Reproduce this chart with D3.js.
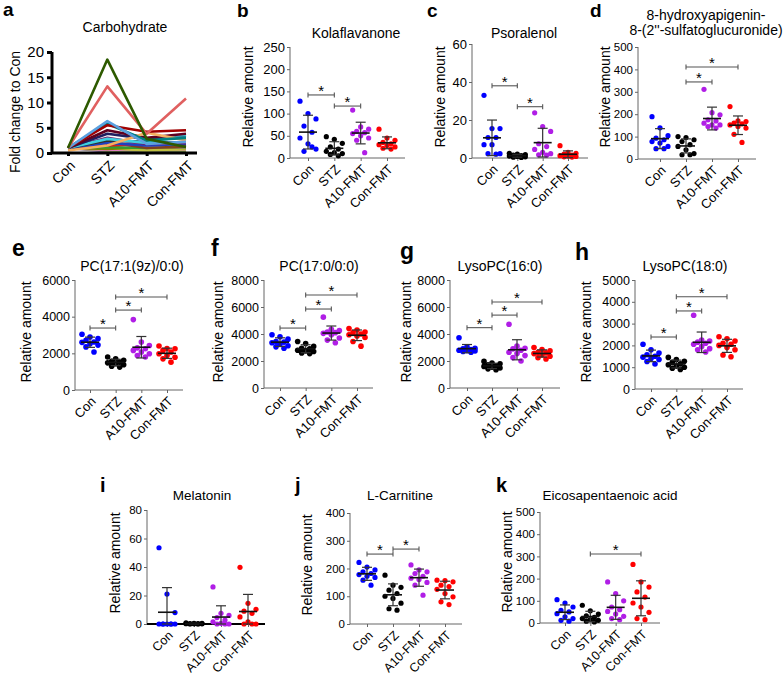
<!DOCTYPE html>
<html><head><meta charset="utf-8">
<script src="https://cdn.jsdelivr.net/npm/d3@7"></script>
<style>
body{margin:0;background:#fff}
text{font-family:"Liberation Sans",Arial,Helvetica,sans-serif;fill:#000}
</style>
</head><body>
<svg id="chart" width="784" height="676"></svg>
<script>
// ---------------- DATA ----------------
const groups = ["Con", "STZ", "A10-FMT", "Con-FMT"];
const groupColors = ["#0000ff", "#000000", "#b01ee6", "#ff0000"];

// (a) Carbohydrate: fold change to Con, one line per metabolite
const carbTicks = [0, 5, 10, 15, 20];
const carbSeries = [
  [1, 0.3, 0.4, 0.3],
  [1, 0.5, 0.6, 0.5],
  [1, 0.6, 0.8, 0.7],
  [1, 1.0, 0.5, 0.8],
  [1, 0.8, 1.2, 1.0],
  [1, 1.2, 1.0, 1.5],
  [1, 1.8, 1.3, 1.1],
  [1, 2.2, 1.0, 1.3],
  [1, 1.5, 1.8, 2.0],
  [1, 2.0, 1.5, 1.8],
  [1, 2.5, 2.2, 2.0],
  [1, 3.0, 1.8, 2.0],
  [1, 2.8, 2.0, 3.5],
  [1, 3.8, 2.8, 3.0],
  [1, 4.5, 3.0, 3.8],
  [0.5, 1.5, 4.0, 2.5],
  [1, 5.8, 2.5, 3.0],
  [1, 5.5, 4.2, 4.5],
  [1, 6.3, 1.8, 2.2],
  [1, 13.2, 3.8, 10.8],
  [1, 18.5, 2.8, 1.2]
];
const carbColors = ["#9060c0", "#80c020", "#e080c0", "#c0c040", "#808000", "#30a030",
  "#909090", "#804020", "#d02020", "#2040c0", "#303030", "#702070", "#40d0e0",
  "#1f1f60", "#600020", "#f5b060", "#008080", "#a00000", "#5aa0e0", "#e06060", "#2d5a00"];

// (b) Kolaflavanone
const kolaflavanone = [
  [128, 100, 88, 72, 58, 45, 32, 20, 15, 25],
  [48, 42, 33, 25, 20, 15, 12, 10, 8, 5],
  [108, 70, 65, 60, 57, 55, 50, 45, 40, 12],
  [65, 45, 40, 35, 32, 30, 28, 25, 22, 20]
];
const kolaTicks = [0, 50, 100, 150, 200, 250];
const kolaSig = [[0, 1, 142], [1, 2, 117]];

// (c) Psoralenol
const psoralenol = [
  [33, 15.5, 15.5, 10.8, 10.8, 7, 7, 2.3, 2.3, 2],
  [2.5, 2, 1.8, 1.5, 1.2, 1, 0.8, 0.6, 0.4, 0.3],
  [23.8, 16.5, 14, 7.5, 6, 4.5, 3, 2.3, 1.7, 1.5],
  [6.5, 3, 2.5, 2, 1.5, 1.2, 1, 0.8, 0.6, 0.5]
];
const psoTicks = [0, 20, 40, 60];
const psoSig = [[0, 1, 38], [1, 2, 27]];

// (d) 8-hydroxyapigenin-8-(2''-sulfatoglucuronide)
const hydroxyapigenin = [
  [189, 139, 104, 93, 86, 78, 71, 56, 46, 46],
  [100, 96, 86, 78, 64, 56, 41, 24, 19, 19],
  [311, 207, 197, 175, 170, 160, 152, 152, 145, 138],
  [234, 170, 167, 160, 157, 152, 145, 138, 110, 74]
];
const hydTicks = [0, 100, 200, 300, 400, 500];
const hydSig = [[1, 2, 344], [1, 3, 411]];

// (e) PC(17:1(9z)/0:0)
const pc171 = [
  [3040, 2890, 2800, 2710, 2620, 2600, 2520, 2450, 2350, 2070],
  [1800, 1700, 1620, 1560, 1520, 1480, 1430, 1380, 1300, 1250],
  [3840, 2620, 2430, 2300, 2250, 2160, 2070, 1980, 1880, 1800],
  [2400, 2260, 2250, 2160, 2070, 1980, 1880, 1790, 1700, 1520]
];
const pc171Ticks = [0, 2000, 4000, 6000];
const pc171Sig = [[0, 1, 3380], [1, 2, 4360], [1, 3, 5070]];

// (f) PC(17:0/0:0)
const pc170 = [
  [3950, 3800, 3620, 3450, 3400, 3350, 3250, 3130, 3050, 2950],
  [3450, 3300, 3080, 2950, 2900, 2800, 2750, 2700, 2600, 2550],
  [5250, 4350, 4250, 4150, 4100, 4050, 3950, 3700, 3550, 3350],
  [4400, 4300, 4150, 4100, 4000, 3950, 3850, 3750, 3450, 3100]
];
const pc170Ticks = [0, 2000, 4000, 6000, 8000];
const pc170Sig = [[0, 1, 4440], [1, 2, 5850], [1, 3, 6890]];

// (g) LysoPC(16:0)
const lyso160 = [
  [3720, 3050, 2950, 2900, 2850, 2800, 2780, 2750, 2700, 2650],
  [1970, 1850, 1800, 1720, 1650, 1600, 1550, 1480, 1420, 1350],
  [4720, 3100, 2950, 2900, 2800, 2650, 2550, 2400, 2250, 2000],
  [3000, 2850, 2750, 2650, 2600, 2550, 2450, 2350, 2250, 2150]
];
const lyso160Ticks = [0, 2000, 4000, 6000, 8000];
const lyso160Sig = [[0, 1, 4470], [1, 2, 5400], [1, 3, 6370]];

// (h) LysoPC(18:0)
const lyso180 = [
  [2050, 1800, 1650, 1570, 1500, 1460, 1400, 1350, 1260, 1150],
  [1450, 1350, 1270, 1220, 1160, 1110, 1050, 1000, 950, 900],
  [3380, 2250, 2200, 2150, 2100, 2050, 1950, 1850, 1800, 1700],
  [2400, 2300, 2200, 2100, 2050, 2000, 1900, 1800, 1560, 1480]
];
const lyso180Ticks = [0, 1000, 2000, 3000, 4000, 5000];
const lyso180Sig = [[0, 1, 2385], [1, 2, 3580], [1, 3, 4230]];

// (i) Melatonin
const melatonin = [
  [53.5, 21, 8, 0, 0, 0, 0, 0, 0, 0],
  [0.8, 0.5, 0.4, 0.3, 0.2, 0.2, 0.1, 0.1, 0, 0],
  [26, 7.5, 6, 4.5, 2.8, 1.5, 0.5, 0, 0, 0],
  [39.8, 14.5, 10.3, 9, 7.5, 5, 1.5, 0, 0, 0]
];
const melTicks = [0, 20, 40, 60, 80];
const melSig = [];

// (j) L-Carnitine
const carnitine = [
  [222, 205, 195, 188, 182, 178, 172, 168, 158, 140],
  [176, 140, 132, 122, 110, 100, 92, 75, 55, 50],
  [213, 195, 188, 182, 172, 165, 160, 150, 140, 104],
  [158, 156, 152, 140, 135, 125, 110, 98, 80, 70]
];
const carTicks = [0, 100, 200, 300, 400];
const carSig = [[0, 1, 252], [1, 2, 270]];

// (k) Eicosapentaenoic acid
const epa = [
  [105, 90, 72, 57, 50, 42, 28, 20, 12, 8],
  [80, 55, 40, 32, 25, 20, 15, 12, 8, 5],
  [185, 132, 100, 72, 60, 52, 40, 30, 20, 15],
  [264, 185, 162, 140, 117, 90, 72, 48, 20, 15]
];
const epaTicks = [0, 100, 200, 300, 400, 500];
const epaSig = [[1, 3, 311]];

// ---------------- LAYOUT ----------------
const svg = d3.select("#chart");
const FONT = '"Liberation Sans",Arial,sans-serif';

function letter(t, x, y, size) {
  svg.append("text").attr("x", x).attr("y", y).attr("font-size", size)
    .attr("font-weight", "bold").text(t);
}

function yAxisLabel(t, x, y, size) {
  svg.append("text").attr("transform", `translate(${x},${y}) rotate(-90)`)
    .attr("text-anchor", "middle").attr("dy", "0.35em").attr("font-size", size).text(t);
}

function drawAxes(p, x, y) {
  const ya = svg.append("g").attr("transform", `translate(${p.x0},0)`)
    .call(d3.axisLeft(y).tickValues(p.ticks).tickFormat(d3.format("d"))
      .tickSize(p.tickLen || 3).tickPadding(p.tickPad || 2).tickSizeOuter(0));
  ya.select(".domain").attr("stroke", p.axisColor).attr("stroke-width", p.axisW)
    .attr("d", `M0,${p.yBot}V${p.yTop}`);
  ya.selectAll(".tick line").attr("stroke", p.axisColor).attr("stroke-width", p.axisW);
  ya.selectAll(".tick text").attr("font-size", p.tickFont).attr("font-family", FONT).attr("fill", "#000");

  const xa = svg.append("g").attr("transform", `translate(0,${p.yBot})`)
    .call(d3.axisBottom(x).tickSize(3).tickSizeOuter(0));
  xa.select(".domain").attr("stroke", p.xAxisColor || p.axisColor)
    .attr("stroke-width", p.xAxisW || p.axisW).attr("d", `M${p.x0},0H${p.x1}`);
  xa.selectAll(".tick line").attr("stroke", p.axisColor).attr("stroke-width", p.axisW);
  xa.selectAll(".tick text").attr("font-size", p.xFont).attr("font-family", FONT).attr("fill", "#000")
    .attr("text-anchor", "end").attr("x", 0).attr("y", 0).attr("dy", "0.35em")
    .attr("transform", `translate(${p.lx},${p.ly}) rotate(-45)`);
}

function drawScatter(p) {
  const x = d3.scalePoint().domain(groups).range([p.c0, p.c1]);
  const y = d3.scaleLinear().domain([0, p.ticks[p.ticks.length - 1]]).range([p.yBot, p.yTop]);
  drawAxes(p, x, y);

  const g = svg.append("g");
  p.data.forEach((vals, gi) => {
    const cx = x(groups[gi]);
    vals.forEach((v, i) => {
      const off = (((i * 7) % 5) - 2) * p.jit;
      g.append("circle").attr("cx", cx + off).attr("cy", y(v)).attr("r", p.r)
        .attr("fill", groupColors[gi]);
    });
    const m = d3.mean(vals), sd = d3.deviation(vals);
    const lo = Math.max(0, m - sd), hi = m + sd;
    const ec = "#333";
    g.append("line").attr("x1", cx).attr("x2", cx).attr("y1", y(lo)).attr("y2", y(hi))
      .attr("stroke", ec).attr("stroke-width", 1.2);
    [lo, hi].forEach(b => g.append("line").attr("x1", cx - p.cap).attr("x2", cx + p.cap)
      .attr("y1", y(b)).attr("y2", y(b)).attr("stroke", ec).attr("stroke-width", 1.2));
    g.append("line").attr("x1", cx - p.meanW).attr("x2", cx + p.meanW)
      .attr("y1", y(m)).attr("y2", y(m)).attr("stroke", "#111").attr("stroke-width", 1.6);
  });

  p.sig.forEach(([a, b, v]) => {
    const x1 = x(groups[a]), x2 = x(groups[b]), yy = y(v);
    const sc = "#555";
    g.append("line").attr("x1", x1).attr("x2", x2).attr("y1", yy).attr("y2", yy)
      .attr("stroke", sc).attr("stroke-width", 1.1);
    [x1, x2].forEach(xx => g.append("line").attr("x1", xx).attr("x2", xx)
      .attr("y1", yy - 2.5).attr("y2", yy + 2.5).attr("stroke", sc).attr("stroke-width", 1.1));
    g.append("text").attr("x", (x1 + x2) / 2).attr("y", yy + 1).attr("text-anchor", "middle")
      .attr("font-size", 15).text("*");
  });

  p.title.forEach((t, k) => svg.append("text").attr("x", p.titleX).attr("y", p.titleY[k])
    .attr("text-anchor", "middle").attr("font-size", p.titleFont).text(t));
  yAxisLabel("Relative amount", p.ylabX, p.ylabY, p.ylabFont);
  letter(p.letter, p.lX, p.lY, p.lSize);
}

// ---- panel a ----
(function () {
  const p = {x0: 52, x1: 197, yTop: 52, yBot: 153, c0: 68, c1: 186, ticks: carbTicks,
    axisColor: "#000", axisW: 3, tickFont: 15, xFont: 14, tickLen: 5, tickPad: 3, lx: 4, ly: 10};
  const x = d3.scalePoint().domain(groups).range([p.c0, p.c1]);
  const y = d3.scaleLinear().domain([0, 20]).range([p.yBot, p.yTop]);
  const line = d3.line().x((d, i) => x(groups[i])).y(d => y(d));
  const lg = svg.append("g");
  carbSeries.forEach((s, i) => lg.append("path").attr("d", line(s)).attr("fill", "none")
    .attr("stroke", carbColors[i]).attr("stroke-width", 2.6).attr("stroke-linejoin", "round"));
  drawAxes(p, x, y);
  svg.append("text").attr("x", 125).attr("y", 32).attr("text-anchor", "middle")
    .attr("font-size", 14).text("Carbohydrate");
  yAxisLabel("Fold change to Con", 15, 112, 14);
  letter("a", 3, 16, 19);
})();

const row1 = {axisColor: "#666", axisW: 1, tickFont: 13, xFont: 13, lx: 3, ly: 9,
  titleFont: 14, ylabFont: 14, r: 2.6, jit: 4, cap: 5, meanW: 9};
const row2 = {axisColor: "#666", axisW: 1, tickFont: 12.5, xFont: 13, lx: 3, ly: 9,
  titleFont: 14, ylabFont: 14, r: 2.8, jit: 4, cap: 5, meanW: 9};
const row3 = {axisColor: "#666", axisW: 1, tickFont: 11.5, xFont: 12.5, lx: 3, ly: 9,
  titleFont: 13.5, ylabFont: 14, r: 2.6, jit: 4, cap: 5, meanW: 9};

const panels = [
  Object.assign({}, row1, {data: kolaflavanone, ticks: kolaTicks, sig: kolaSig, title: ["Kolaflavanone"],
    x0: 290, x1: 405, c0: 308, c1: 387, yTop: 47, yBot: 158, titleX: 356, titleY: [38],
    ylabX: 248, ylabY: 97, letter: "b", lX: 237, lY: 17, lSize: 19}),
  Object.assign({}, row1, {data: psoralenol, ticks: psoTicks, sig: psoSig, title: ["Psoralenol"],
    x0: 472, x1: 588, c0: 492, c1: 568, yTop: 44, yBot: 158, titleX: 524, titleY: [38],
    ylabX: 440, ylabY: 97, letter: "c", lX: 427, lY: 17, lSize: 19}),
  Object.assign({}, row1, {data: hydroxyapigenin, ticks: hydTicks, sig: hydSig, tickFont: 11.5,
    title: ["8-hydroxyapigenin-", "8-(2''-sulfatoglucuronide)"],
    x0: 638, x1: 756, c0: 660, c1: 738, yTop: 47, yBot: 159, titleX: 706, titleY: [20, 35],
    ylabX: 605, ylabY: 97, letter: "d", lX: 590, lY: 17, lSize: 19}),
  Object.assign({}, row2, {data: pc171, ticks: pc171Ticks, sig: pc171Sig, title: ["PC(17:1(9z)/0:0)"],
    x0: 75, x1: 183, c0: 90, c1: 167, yTop: 280, yBot: 390, titleX: 132, titleY: [271],
    ylabX: 26, ylabY: 332, letter: "e", lX: 12, lY: 256, lSize: 23}),
  Object.assign({}, row2, {data: pc170, ticks: pc170Ticks, sig: pc170Sig, title: ["PC(17:0/0:0)"],
    x0: 264, x1: 373, c0: 280, c1: 357, yTop: 280, yBot: 388, titleX: 319, titleY: [271],
    ylabX: 218, ylabY: 332, letter: "f", lX: 211, lY: 256, lSize: 23}),
  Object.assign({}, row2, {data: lyso160, ticks: lyso160Ticks, sig: lyso160Sig, title: ["LysoPC(16:0)"],
    x0: 450, x1: 560, c0: 467, c1: 542, yTop: 280, yBot: 388, titleX: 500, titleY: [271],
    ylabX: 406, ylabY: 332, letter: "g", lX: 400, lY: 259, lSize: 23}),
  Object.assign({}, row2, {data: lyso180, ticks: lyso180Ticks, sig: lyso180Sig, title: ["LysoPC(18:0)"],
    x0: 635, x1: 743, c0: 651, c1: 727, yTop: 280, yBot: 389, titleX: 685, titleY: [271],
    ylabX: 586, ylabY: 332, letter: "h", lX: 575, lY: 260, lSize: 23}),
  Object.assign({}, row3, {data: melatonin, ticks: melTicks, sig: melSig, title: ["Melatonin"],
    x0: 147, x1: 265, c0: 167, c1: 248, yTop: 510, yBot: 624, titleX: 202, titleY: [500],
    ylabX: 115, ylabY: 563, letter: "i", lX: 100, lY: 492, lSize: 20, xAxisColor: "#000", xAxisW: 2}),
  Object.assign({}, row3, {data: carnitine, ticks: carTicks, sig: carSig, title: ["L-Carnitine"],
    x0: 350, x1: 462, c0: 367, c1: 445, yTop: 513, yBot: 624, titleX: 400, titleY: [500],
    ylabX: 307, ylabY: 565, letter: "j", lX: 295, lY: 492, lSize: 20}),
  Object.assign({}, row3, {data: epa, ticks: epaTicks, sig: epaSig, title: ["Eicosapentaenoic acid"],
    x0: 540, x1: 660, c0: 565, c1: 641, yTop: 512, yBot: 623, titleX: 610, titleY: [500],
    ylabX: 507, ylabY: 562, letter: "k", lX: 496, lY: 492, lSize: 20})
];
panels.forEach(drawScatter);
</script>
</body></html>
